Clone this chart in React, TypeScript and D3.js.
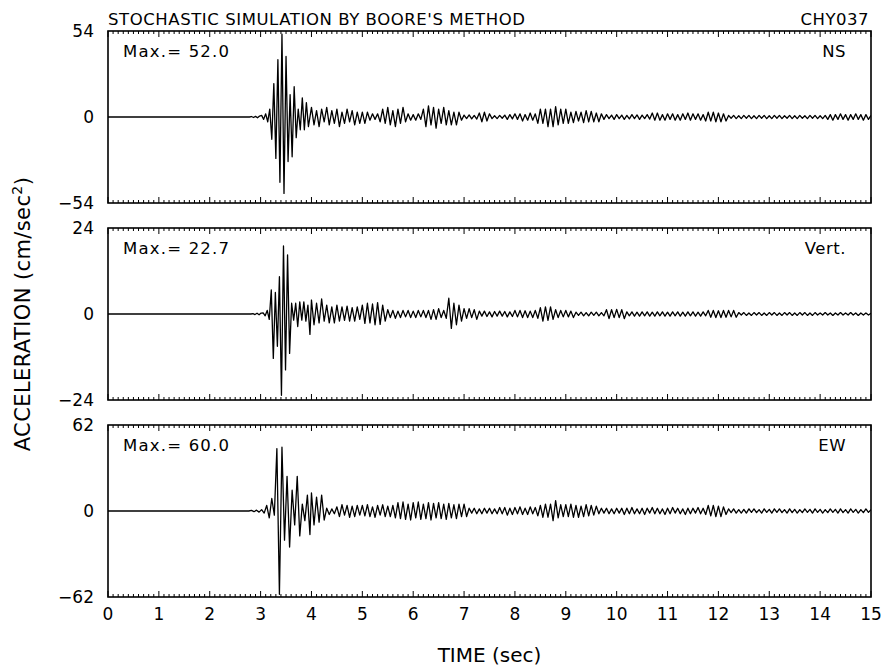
import React from 'react';
import * as d3 from 'd3';

const title = "STOCHASTIC SIMULATION BY BOORE'S METHOD";
const station = 'CHY037';
const componentNames = ['NS', 'Vert.', 'EW'];
const axisLimits = [54, 24, 62];
const peakLabels = ['52.0', '22.7', '60.0'];

const burstStarts = [2.78, 2.81, 2.77];
const burstSteps = [0.04, 0.04, 0.05];
const codaStart = 4.0;
const codaStep = 0.05;

const nsBurst = [0, 0.3, -0.3, 0.4, -0.5, 0.6,
  1, -1.5, 2, -3, 5, -14, 21, -26, 36, -41, 52, -48, 38, -28, 14, -25, 19, -13, 5, -8, 12, -8, 9, -6];
const vertBurst = [0, 0.1, -0.15, 0.2, -0.2, 0.25,
  0.3, -0.5, 1, -1.5, 6.7, -12.4, 6, -9, 10.4, -22.7, 19, -15.6, 16.5, -11, 3, -1.7, 3, -3.5, 3.4, -1.7, 3.4, -2, 2.5, -5.7];
const ewBurst = [0, 0.4, -0.5, 0.6, -0.8,
  1, -1.5, 4, -5, 9, -3, 45, -60, 46, -21, 25, -26, 15, -10, 25, -18, 5, -7, 11.5, -17];

const nsCoda = [
  6, -5, 4, -6, 5, -3, 6, -5, 4, -4, 5, -6, 3, -4, 5, -3, 4, -5, 3, -4,
  3, -4, 3, -2, 2, -1.5, 2, -3, 5, -4, 6, -5, 4, -6, 5, -4, 6, -3, 2, -2,
  1.5, -2, 2, -1.5, 5, -6, 7, -5, 6, -7, 5, -4, 6, -5, 4, -5, 3, -5, 3, -2,
  1.2, -1, 1.3, -1.2, 1, -1.3, 2.5, -3, 3, -2.5, 2, -1, 0.8, -1, 1, -0.8, 1.2, -1.5, 1.5, -1.2,
  2, -1.5, 2, -2.5, 1.5, -2, 2.5, -2, 2, -4, 5, -4, 5, -6, 5, -6, 6.5, -5, 5, -4,
  5, -4, 3, -3.5, 3.5, -2.5, 3, -3.5, 4, -3, 3.5, -3, 2.5, -3, 2, -1.5, 1.5, -1, 1.2, -1.5,
  1.5, -1, 1.2, -1.5, 1, -1.2, 1.5, -1, 1.3, -1.5, 1.2, -1, 1.5, -1.3, 2.5, -2, 2.5, -2, 1.5, -2,
  2, -1.5, 2, -2, 1.5, -2, 2, -1.5, 2.5, -2, 2, -1.5, 2, -2, 1.5, -2.5, 3, -2.5, 3, -3,
  2.5, -3, 2, -2.5, 1, -0.8, 1, -1, 0.8, -1, 1, -0.8, 1, -1, 0.8, -1, 1, -0.8, 1, -1,
  0.8, -1, 1, -0.8, 1, -1, 0.8, -0.8, 1, -1, 0.8, -1, 1, -0.8, 0.8, -1, 1, -0.8, 1, -1,
  0.8, -1, 1, -1.5, 1.5, -2, 1.5, -1.5, 2, -1.5, 1.5, -2, 1.5, -1.5, 2, -1.5, 1.5, -2, 1.5, -1.5,
  1];
const vertCoda = [
  3.9, -3, 3, -2.5, 4.2, -2, 2.5, -2.5, 2, -2.5, 2.5, -2, 2, -1.8, 2.2, -2, 1.8, -2, 2, -1.5,
  2.5, -2.6, 3, -2.5, 2.8, -3, 3.2, -2.9, 2.5, -2, 1.2, -1, 1, -1.2, 0.8, -1, 1, -0.8, 1, -1,
  0.8, -1, 1, -0.8, 1, -1, 1, -1.5, 1.2, -1.5, 1.5, -1, 1, -1.2, 4.4, -4, 3, -3, 2.5, -2,
  1.5, -1.2, 1.5, -1, 1.2, -1.5, 0.8, -0.6, 0.8, -0.7, 0.6, -0.8, 0.7, -0.6, 0.8, -0.6, 0.7, -0.8, 0.6, -0.7,
  1, -0.8, 1, -1, 0.9, -1, 0.8, -1, 1, -1.2, 1.8, -2, 2, -1.8, 2, -1.5, 1.2, -1, 1, -0.8,
  1, -0.8, 0.8, -1, 0.5, -0.4, 0.5, -0.5, 0.4, -0.5, 0.5, -0.4, 0.5, -0.5, 0.4, -0.5, 1.2, -1.3, 1.2, -1,
  1.3, -1, 1.2, -1.3, 0.6, -0.5, 0.6, -0.6, 0.5, -0.6, 0.6, -0.5, 0.6, -0.6, 0.5, -0.6, 0.6, -0.5, 0.6, -0.6,
  0.5, -0.6, 0.6, -0.5, 0.6, -0.6, 0.5, -0.6, 0.6, -0.5, 0.6, -0.6, 0.5, -0.6, 0.6, -0.5, 1, -0.9, 1, -1,
  0.9, -1, 1, -0.9, 1, -0.8, 1, -0.9, 0.4, -0.3, 0.4, -0.4, 0.3, -0.4, 0.4, -0.3, 0.4, -0.4, 0.3, -0.4,
  0.4, -0.3, 0.4, -0.4, 0.3, -0.4, 0.4, -0.3, 0.4, -0.4, 0.3, -0.4, 0.4, -0.3, 0.4, -0.4, 0.3, -0.4, 0.4, -0.3,
  0.3, -0.3, 0.4, -0.3, 0.3, -0.4, 0.3, -0.3, 0.4, -0.3, 0.3, -0.3, 0.4, -0.3, 0.3, -0.4, 0.3, -0.3, 0.3, -0.3,
  0.2];
const ewCoda = [
  13, -10, 10, -8, 11.5, -6.5, 2, -2.5, 1.5, -2, 3, -4, 4.5, -3, 4, -4.5, 3.5, -4, 4, -3,
  4, -3.5, 4.5, -4, 3, -4.5, 4, -3, 4.5, -4, 3.5, -4, 4, -5, 6, -5.5, 6.5, -6, 5, -6.5,
  6, -5, 6.5, -6, 5, -5.5, 6, -6.5, 5.5, -5, 6, -5.5, 5, -6, 5.5, -5, 4.5, -5.5, 5, -4,
  5, -4, 2, -1.5, 2, -2, 1.5, -2, 2, -1.5, 2, -2, 1.5, -2, 2.5, -2, 2.5, -3, 2, -2.5,
  2.5, -2, 3, -2.5, 2, -2.5, 3, -2, 2.5, -3.5, 4, -4.5, 5, -4.5, 5, -7, 7.5, -5, 4.5, -4,
  4.5, -4, 5, -4.5, 4, -4.5, 3.5, -4, 4.5, -3.5, 4, -3, 3.5, -2, 2, -1.5, 2, -2, 1.5, -2,
  2, -1.5, 2, -2.5, 2, -2, 2.5, -2, 1.5, -2, 2, -2.5, 2, -1.5, 2.5, -2, 2, -2, 1.5, -2.5,
  2, -2, 2.5, -1.5, 2, -2, 1.5, -2.5, 2, -2, 2, -1.5, 2.5, -2, 2, -2.5, 4, -3.5, 4, -4,
  3.5, -4, 3, -2.5, 1.5, -1.2, 1.5, -1.5, 1, -1.5, 1.2, -1.5, 1.5, -1, 1.5, -1.2, 1, -1.5, 1.5, -1,
  1.2, -1.5, 1.5, -1, 1.5, -1.2, 1, -1.5, 1.5, -1.2, 1.2, -1.5, 1, -1.2, 1.5, -1, 1.2, -1.5, 1.5, -1,
  1.2, -1.5, 1, -1.2, 1.5, -1, 1.2, -1.5, 1.5, -1.2, 1, -1.5, 1.5, -1, 1.2, -1.5, 1, -1.2, 1.5, -1,
  1];

const bursts = [nsBurst, vertBurst, ewBurst];
const codas = [nsCoda, vertCoda, ewCoda];

const W = 886;
const H = 668;
const margin = { left: 108, right: 15, top: 31 };
const panelH = 172;
const panelGap = 25;
const font = "'DejaVu Sans', sans-serif";

export default function App() {
  const x = d3.scaleLinear().domain([0, 15]).range([margin.left, W - margin.right]);
  const minorTicks = x.ticks(150);
  const majorTicks = x.ticks(15);
  const isMajor = (t: number) => Math.abs(t - Math.round(t)) < 1e-6;
  const fmt = d3.format('d');

  const panels = componentNames.map((name, i) => {
    const top = margin.top + i * (panelH + panelGap);
    const y = d3.scaleLinear().domain([-axisLimits[i], axisLimits[i]]).range([top + panelH, top]);
    const pts: [number, number][] = [[0, 0]];
    bursts[i].forEach((v, k) => pts.push([burstStarts[i] + k * burstSteps[i], v]));
    codas[i].forEach((v, k) => pts.push([codaStart + k * codaStep, v]));
    const line = d3.line<[number, number]>().x(d => x(d[0])).y(d => y(d[1]));
    return { name, top, y, d: line(pts) || '', i };
  });

  const bottom = panels[2].top + panelH;

  return (
    <svg width={W} height={H} style={{ position: 'absolute', left: 0, top: 0, background: '#fff' }} fontFamily={font}>
      <rect width={W} height={H} fill="#fff" />
      <defs>
        {panels.map(p => (
          <clipPath id={`clip${p.i}`} key={p.i}>
            <rect x={x(0)} y={p.top} width={x(15) - x(0)} height={panelH} />
          </clipPath>
        ))}
      </defs>
      <text x={x(0)} y={25} fontSize={16.5} textLength={417} lengthAdjust="spacing">{title}</text>
      <text x={x(15) - 2} y={25} fontSize={16.5} textAnchor="end" letterSpacing={0.5}>{station}</text>

      {panels.map(p => (
        <g key={p.i}>
          <path d={p.d} fill="none" stroke="#000" strokeWidth={1.3} strokeLinejoin="round" clipPath={`url(#clip${p.i})`} />
          {minorTicks.map((t, k) => {
            const len = isMajor(t) ? 6 : 3;
            return (
              <g key={k} stroke="#000" strokeWidth={1}>
                <line x1={x(t)} x2={x(t)} y1={p.top} y2={p.top + len} />
                <line x1={x(t)} x2={x(t)} y1={p.top + panelH} y2={p.top + panelH - len} />
              </g>
            );
          })}
          <rect x={x(0)} y={p.top} width={x(15) - x(0)} height={panelH} fill="none" stroke="#000" strokeWidth={1.6} />
          {[axisLimits[p.i], 0, -axisLimits[p.i]].map(v => (
            <text key={v} x={94} y={p.y(v)} dy="0.36em" fontSize={17} textAnchor="end">{fmt(v)}</text>
          ))}
          <text x={123} y={p.top + 26} fontSize={16.5} textLength={106} lengthAdjust="spacing">{`Max.= ${peakLabels[p.i]}`}</text>
          <text x={846} y={p.top + 26} fontSize={16.5} textAnchor="end" letterSpacing={0.5}>{p.name}</text>
        </g>
      ))}

      {majorTicks.map(t => (
        <text key={t} x={x(t)} y={bottom + 23} fontSize={17} textAnchor="middle">{fmt(t)}</text>
      ))}
      <text x={(x(0) + x(15)) / 2} y={662} fontSize={20} textAnchor="middle">TIME (sec)</text>
      <text transform={`translate(30,${panels[1].y(0)}) rotate(-90)`} fontSize={21} letterSpacing={0.4} textAnchor="middle">
        ACCELERATION (cm/sec<tspan dy={-8} fontSize={14}>2</tspan><tspan dy={8}>)</tspan>
      </text>
    </svg>
  );
}
